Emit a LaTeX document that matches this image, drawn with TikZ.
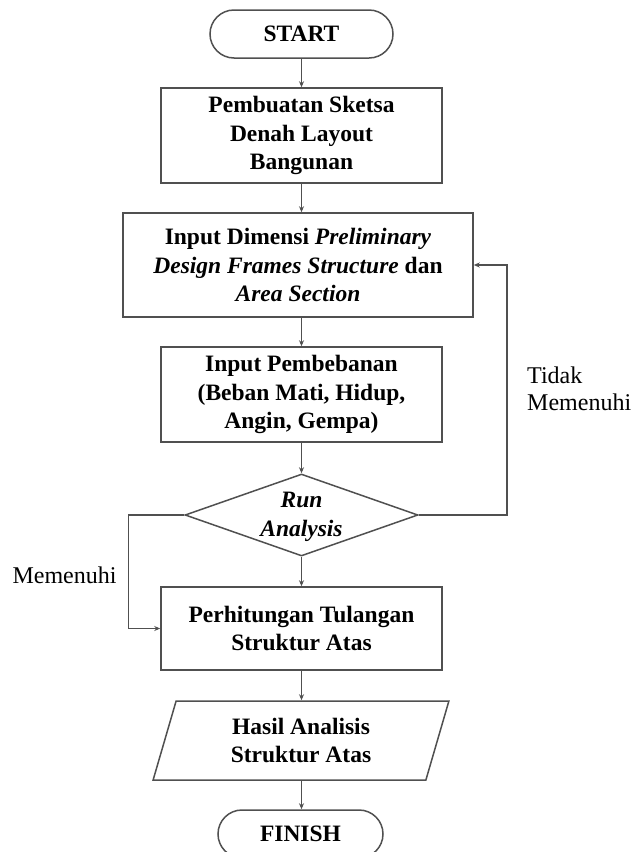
\documentclass[tikz,border=0pt]{standalone}
\usepackage{fontspec}
\setmainfont{Liberation Serif}
\usetikzlibrary{shapes.geometric,arrows.meta}
\definecolor{linegray}{RGB}{80,80,80}
\tikzset{
  flow/.style={draw=linegray,line width=1.5pt,fill=white,align=center,inner sep=0pt,
    font=\fontsize{23.5}{28.5}\selectfont\bfseries},
  term/.style={flow,rounded corners=24pt,minimum height=48pt},
  proc/.style={flow,minimum width=281pt},
  io/.style={flow,trapezium,trapezium left angle=74,trapezium right angle=106,
    trapezium stretches=true,minimum width=296pt,minimum height=79pt},
  decision/.style={flow,diamond,minimum width=233pt,minimum height=82pt},
  note/.style={font=\fontsize{24}{27}\selectfont,inner sep=0pt},
  link/.style={draw=linegray,line width=1.5pt,-{Stealth[length=6pt,width=5pt]}},
}

\begin{document}
\begin{tikzpicture}[x=1pt,y=-1pt]
\useasboundingbox (0,0) rectangle (633,852);
\node[term,minimum width=183pt] (start) at (301.5,34) {START};
\node[proc,minimum height=95pt] (sketsa) at (301.5,135.5) {Pembuatan Sketsa\\Denah Layout\\Bangunan};
\node[proc,minimum width=350pt,minimum height=104pt] (dimensi) at (298,265) {Input Dimensi \textit{Preliminary}\\\textit{Design Frames Structure} dan\\\textit{Area Section}};
\node[proc,minimum height=95pt] (beban) at (301.5,394.5) {Input Pembebanan\\(Beban Mati, Hidup,\\Angin, Gempa)};
\node[decision] (run) at (301.5,515) {};
\node[flow,draw=none,fill=none] (runtext) at (301.5,517) {\textit{Run}\\\textit{Analysis}};
\node[proc,minimum height=83pt] (tulangan) at (301.5,628.5) {Perhitungan Tulangan\\Struktur Atas};
\node[io] (hasil) at (301,740.5) {Hasil Analisis\\Struktur Atas};
\node[term,minimum width=165pt] (finish) at (300.5,834) {FINISH};

\draw[link] (start) -- (sketsa);
\draw[link] (sketsa.south) -- (sketsa.south |- dimensi.north);
\draw[link] (beban.north |- dimensi.south) -- (beban.north);
\draw[link] (beban) -- (run);
\draw[link] (run) -- (tulangan);
\draw[link] (tulangan) -- (tulangan.south |- hasil.north);
\draw[link] (tulangan.south |- hasil.south) -- (tulangan.south |- finish.north);

% loops
\draw[link] (run.east) -- ++(88,0) coordinate (back) |- (dimensi.east);
\draw[link] (run.west) -- ++(-56,0) coordinate (ok) |- (tulangan.west);
\node[note] (memenuhi) at (64.5,575) {Memenuhi};
\node[note,align=left,anchor=west] (tidak) at (527,389) {Tidak\\Memenuhi};
\end{tikzpicture}
\end{document}
